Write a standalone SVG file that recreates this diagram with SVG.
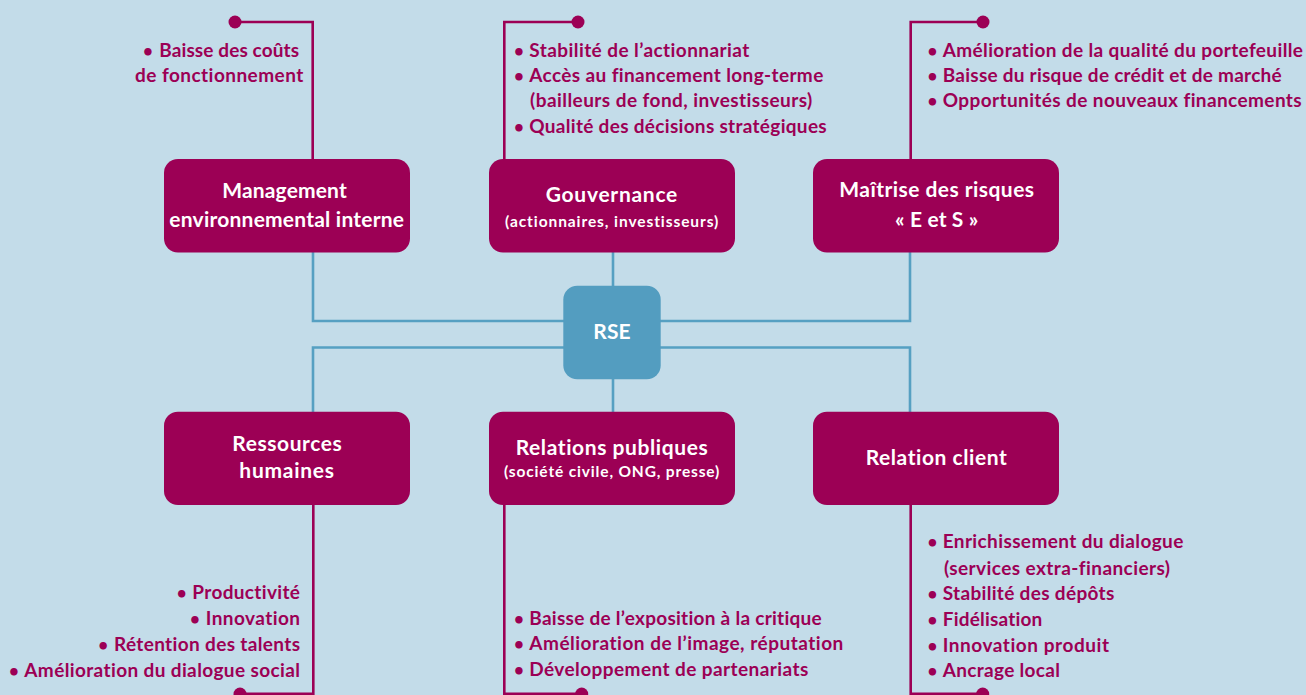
<svg xmlns="http://www.w3.org/2000/svg" width="1306" height="695" viewBox="0 0 1306 695">
<style>
.bg{fill:#c3dce9}
.box{fill:#9c0055}
.rse{fill:#539dc0}
.bl{fill:none;stroke:#56a0c2;stroke-width:2.6}
.ml{fill:none;stroke:#9c0055;stroke-width:2.6}
.dot{fill:#9c0055}
text{font-variant-ligatures:none}
.t{font-family:Lato,"Open Sans",sans-serif;font-weight:700;font-size:19px;fill:#9c0055}
.h{font-family:Lato,"Open Sans",sans-serif;font-weight:700;font-size:21px;fill:#ffffff;text-anchor:middle}
.s{font-family:Lato,"Open Sans",sans-serif;font-weight:700;font-size:15.5px;fill:#ffffff;text-anchor:middle}
.b{text-anchor:middle;font-size:17px}
</style>
<rect class="bg" x="0" y="0" width="1306" height="695"/>

<g id="connectors">
  <path class="bl" d="M313 252 V321 H910 V252"/>
  <path class="bl" d="M613 252 V287"/>
  <path class="bl" d="M313 412 V347.5 H910 V412"/>
  <path class="bl" d="M613 379 V412"/>
  <path class="ml" d="M235 22 H312.7 V159"/>
  <path class="ml" d="M578 22 H504.3 V159"/>
  <path class="ml" d="M983 22 H910.7 V159"/>
  <path class="ml" d="M313.3 505 V693.7 H240"/>
  <path class="ml" d="M504.3 505 V693.7 H581.7"/>
  <path class="ml" d="M910.7 505 V693.7 H982.7"/>
  <circle class="dot" cx="235" cy="22" r="6.5"/>
  <circle class="dot" cx="578" cy="22" r="6.5"/>
  <circle class="dot" cx="983" cy="22" r="6.5"/>
  <circle class="dot" cx="240" cy="694" r="6.5"/>
  <circle class="dot" cx="581.7" cy="694" r="6.5"/>
  <circle class="dot" cx="982.7" cy="694" r="6.5"/>
</g>

<g id="rse">
  <rect class="rse" x="563.3" y="285.7" width="97.4" height="93.6" rx="14"/>
  <text class="h" x="612" y="338.5" textLength="37.4">RSE</text>
</g>

<g id="management">
  <rect class="box" x="164" y="159" width="246" height="93.5" rx="14"/>
  <text class="h" x="284.5" y="197.5" textLength="124.4">Management</text>
  <text class="h" x="286.7" y="226.7" textLength="234.7">environnemental interne</text>
  <text class="t"><tspan class="b" x="148" y="56.7">•</tspan><tspan x="159.3" y="56.7" textLength="139.7">Baisse des coûts</tspan></text>
  <text class="t" x="135" y="81.7" textLength="168.3">de fonctionnement</text>
</g>

<g id="gouvernance">
  <rect class="box" x="489" y="159" width="246" height="93.5" rx="14"/>
  <text class="h" x="611.5" y="201.5" textLength="131.6">Gouvernance</text>
  <text class="s" x="611.7" y="226.5" textLength="213.3">(actionnaires, investisseurs)</text>
  <text class="t"><tspan class="b" x="519" y="56.7">•</tspan><tspan x="529.3" y="56.7" textLength="220">Stabilité de l’actionnariat</tspan></text>
  <text class="t"><tspan class="b" x="519" y="81.7">•</tspan><tspan x="529.3" y="81.7" textLength="294">Accès au financement long-terme</tspan></text>
  <text class="t" x="530" y="107.2" textLength="282.3">(bailleurs de fond, investisseurs)</text>
  <text class="t"><tspan class="b" x="519" y="132.7">•</tspan><tspan x="529.3" y="132.7" textLength="297.4">Qualité des décisions stratégiques</tspan></text>
</g>

<g id="risques">
  <rect class="box" x="813" y="159" width="246" height="93.5" rx="14"/>
  <text class="h" x="936.7" y="197" textLength="194.7">Maîtrise des risques</text>
  <text class="h" x="936.7" y="226.7" textLength="83.3">« E et S »</text>
  <text class="t"><tspan class="b" x="932.5" y="56.7">•</tspan><tspan x="942.7" y="56.7" textLength="360.3">Amélioration de la qualité du portefeuille</tspan></text>
  <text class="t"><tspan class="b" x="932.5" y="81.7">•</tspan><tspan x="942.7" y="81.7" textLength="339">Baisse du risque de crédit et de marché</tspan></text>
  <text class="t"><tspan class="b" x="932.5" y="107.3">•</tspan><tspan x="942.7" y="107.3" textLength="359">Opportunités de nouveaux financements</tspan></text>
</g>

<g id="rh">
  <rect class="box" x="164" y="411.7" width="246" height="93.3" rx="14"/>
  <text class="h" x="287" y="450.7" textLength="109.4">Ressources</text>
  <text class="h" x="286.7" y="478.3" textLength="94.7">humaines</text>
  <text class="t"><tspan class="b" x="181.6" y="599.3">•</tspan><tspan x="192.3" y="599.3" textLength="107.7">Productivité</tspan></text>
  <text class="t"><tspan class="b" x="195" y="625">•</tspan><tspan x="205.7" y="625" textLength="94.3">Innovation</tspan></text>
  <text class="t"><tspan class="b" x="103.3" y="650.7">•</tspan><tspan x="114" y="650.7" textLength="186">Rétention des talents</tspan></text>
  <text class="t"><tspan class="b" x="14" y="676.7">•</tspan><tspan x="24.3" y="676.7" textLength="275.7">Amélioration du dialogue social</tspan></text>
</g>

<g id="relations">
  <rect class="box" x="489" y="411.7" width="246" height="93.3" rx="14"/>
  <text class="h" x="611.7" y="455" textLength="192">Relations publiques</text>
  <text class="s" x="611.7" y="477.3" textLength="215.3">(société civile, ONG, presse)</text>
  <text class="t"><tspan class="b" x="519" y="625">•</tspan><tspan x="529.3" y="625" textLength="292.4">Baisse de l’exposition à la critique</tspan></text>
  <text class="t"><tspan class="b" x="519" y="650.3">•</tspan><tspan x="529.3" y="650.3" textLength="314">Amélioration de l’image, réputation</tspan></text>
  <text class="t"><tspan class="b" x="519" y="676">•</tspan><tspan x="529.3" y="676" textLength="279">Développement de partenariats</tspan></text>
</g>

<g id="client">
  <rect class="box" x="813" y="411.7" width="246" height="93.3" rx="14"/>
  <text class="h" x="936.2" y="465" textLength="141">Relation client</text>
  <text class="t"><tspan class="b" x="932.5" y="548.3">•</tspan><tspan x="942.7" y="548.3" textLength="240.6">Enrichissement du dialogue</tspan></text>
  <text class="t" x="944" y="574.5" textLength="226">(services extra-financiers)</text>
  <text class="t"><tspan class="b" x="932.5" y="600">•</tspan><tspan x="942.7" y="600" textLength="171.6">Stabilité des dépôts</tspan></text>
  <text class="t"><tspan class="b" x="932.5" y="626">•</tspan><tspan x="942.7" y="626" textLength="99.6">Fidélisation</tspan></text>
  <text class="t"><tspan class="b" x="932.5" y="651.7">•</tspan><tspan x="942.7" y="651.7" textLength="166.3">Innovation produit</tspan></text>
  <text class="t"><tspan class="b" x="932.5" y="676.7">•</tspan><tspan x="942.7" y="676.7" textLength="117.3">Ancrage local</tspan></text>
</g>
</svg>
